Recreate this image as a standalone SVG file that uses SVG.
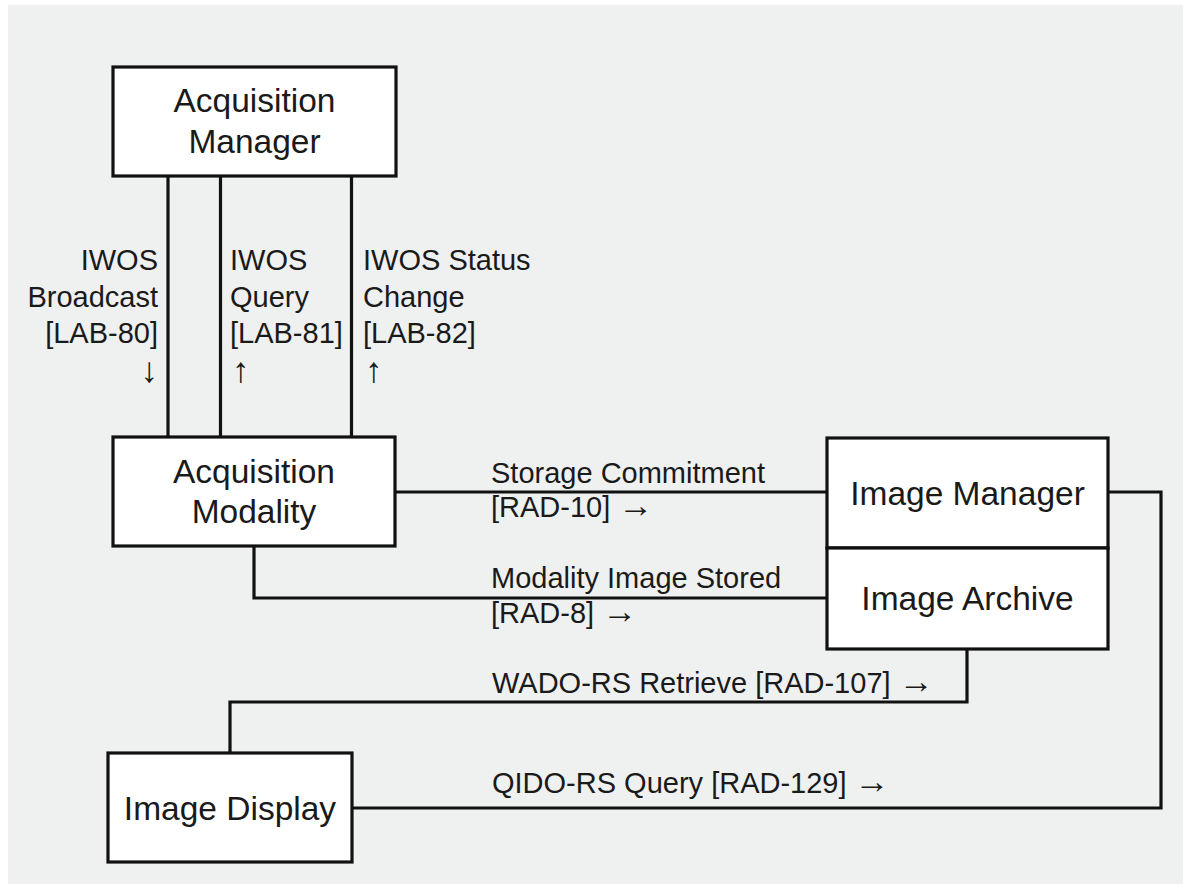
<svg xmlns="http://www.w3.org/2000/svg" width="1183" height="884" viewBox="0 0 1183 884">
<style>
.node rect{fill:#ffffff;stroke:#111111;stroke-width:3.2}
.node text{font-size:33.5px;fill:#1a1a1a;text-anchor:middle}
.conn path{fill:none;stroke:#111111;stroke-width:3.2}
.lbl{font-size:29px;fill:#1a1a1a}
.ar{font-size:35px}
</style>
<rect x="0" y="0" width="1183" height="884" fill="#ffffff"/>
<rect x="8" y="5" width="1175" height="879" fill="#eff0f0"/>
<g class="conn" id="connectors">
<path d="M168,176 V437"/>
<path d="M220.5,176 V437"/>
<path d="M351.5,176 V437"/>
<path d="M395,492 H827"/>
<path d="M254,546 V598 H827"/>
<path d="M967,649 V702 H230 V753"/>
<path d="M1108,492 H1161 V808 H352"/>
</g>
<g id="labels" font-family="Liberation Sans, Arial, sans-serif">
<text class="lbl" text-anchor="end"><tspan x="158" y="270">IWOS</tspan><tspan x="158" y="307">Broadcast</tspan><tspan x="158" y="343">[LAB-80]</tspan><tspan class="ar" x="158" y="382">↓</tspan></text>
<text class="lbl"><tspan x="230" y="270">IWOS</tspan><tspan x="230" y="307">Query</tspan><tspan x="230" y="343">[LAB-81]</tspan><tspan class="ar" x="232" y="382">↑</tspan></text>
<text class="lbl"><tspan x="363" y="270">IWOS Status</tspan><tspan x="363" y="307">Change</tspan><tspan x="363" y="343">[LAB-82]</tspan><tspan class="ar" x="365" y="382">↑</tspan></text>
<text class="lbl"><tspan x="491" y="483">Storage Commitment</tspan><tspan x="491" y="517">[RAD-10] <tspan class="ar">→</tspan></tspan></text>
<text class="lbl"><tspan x="491" y="588">Modality Image Stored</tspan><tspan x="491" y="623">[RAD-8] <tspan class="ar">→</tspan></tspan></text>
<text class="lbl" x="492" y="693">WADO-RS Retrieve [RAD-107] <tspan class="ar">→</tspan></text>
<text class="lbl" x="492" y="793">QIDO-RS Query [RAD-129] <tspan class="ar">→</tspan></text>
</g>
<g font-family="Liberation Sans, Arial, sans-serif">
<g class="node" id="acquisition-manager">
<rect x="113" y="67" width="283" height="109"/>
<text><tspan x="254.5" y="112">Acquisition</tspan><tspan x="254.5" y="153">Manager</tspan></text>
</g>
<g class="node" id="acquisition-modality">
<rect x="113" y="437" width="282" height="109"/>
<text><tspan x="254" y="483">Acquisition</tspan><tspan x="254" y="523">Modality</tspan></text>
</g>
<g class="node" id="image-manager">
<rect x="827" y="438" width="281" height="110"/>
<text x="967.5" y="505">Image Manager</text>
</g>
<g class="node" id="image-archive">
<rect x="827" y="548" width="281" height="101"/>
<text x="967.5" y="610">Image Archive</text>
</g>
<g class="node" id="image-display">
<rect x="108" y="753" width="244" height="109"/>
<text x="230" y="820">Image Display</text>
</g>
</g>
</svg>
